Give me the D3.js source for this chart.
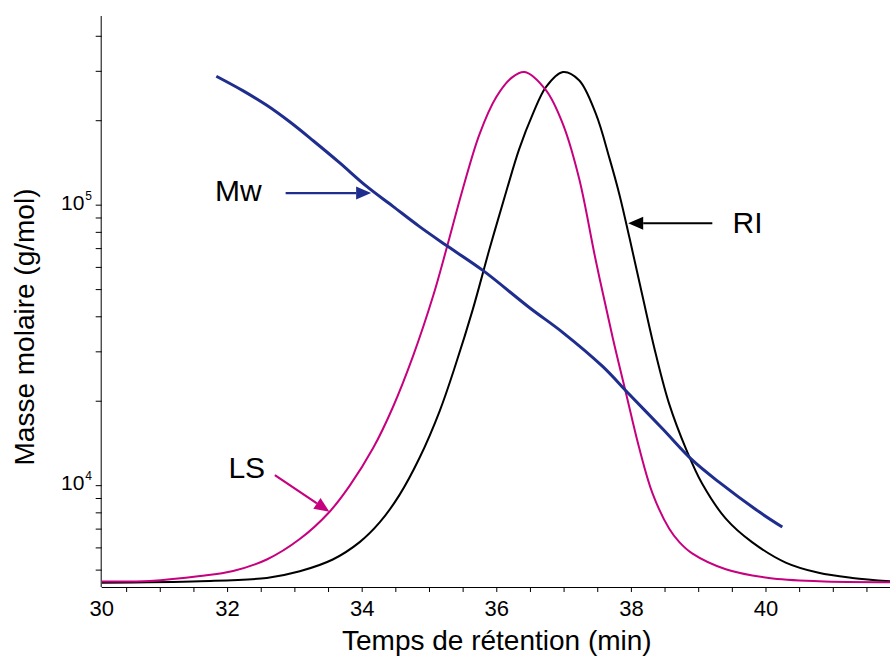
<!DOCTYPE html>
<html>
<head>
<meta charset="utf-8">
<script src="https://cdn.jsdelivr.net/npm/d3@7"></script>
<style>
  html, body { margin: 0; padding: 0; background: #fff; }
  svg { display: block; font-family: "Liberation Sans", Arial, sans-serif; }
</style>
</head>
<body>
<svg id="chart" width="891" height="661"></svg>
<script>
// ---------- data ----------
// Mw (g/mol) vs retention time (min)
const mwTime  = [31.84, 32.24, 32.59, 32.93, 33.28, 33.67, 34.07, 34.46, 34.86, 35.26, 35.80, 36.49, 36.99, 37.58, 37.95, 38.47, 38.91, 39.31, 39.90, 40.25];
const mwValue = [287000, 254500, 226000, 197400, 169000, 141200, 116400, 98800, 83500, 71500, 58300, 43000, 35000, 26500, 21400, 15890, 12300, 10250, 8050, 7090];

// Light scattering signal (normalised)
const lsTime   = [30.14, 30.85, 31.60, 32.09, 32.59, 33.08, 33.52, 33.82, 34.17, 34.46, 34.76, 35.06, 35.26, 35.50, 35.75, 36.00, 36.24, 36.42, 36.74, 36.99, 37.23, 37.48, 37.73, 37.93, 38.12, 38.32, 38.57, 38.72, 38.91, 39.41, 40.05, 40.79, 41.85];
const lsSignal = [0.003, 0.004, 0.0135, 0.0235, 0.046, 0.086, 0.139, 0.190, 0.264, 0.343, 0.443, 0.561, 0.654, 0.770, 0.878, 0.951, 0.990, 1.000, 0.964, 0.898, 0.792, 0.630, 0.480, 0.370, 0.266, 0.176, 0.106, 0.080, 0.058, 0.027, 0.010, 0.0035, 0.0016];

// Refractive index signal (normalised)
const riTime   = [30.14, 31.60, 32.59, 33.08, 33.57, 33.97, 34.27, 34.56, 34.86, 35.16, 35.40, 35.65, 35.90, 36.15, 36.34, 36.54, 36.74, 36.99, 37.23, 37.48, 37.68, 37.83, 37.98, 38.17, 38.37, 38.57, 38.82, 39.06, 39.41, 39.80, 40.30, 40.79, 41.29, 41.85];
const riSignal = [0.0006, 0.0035, 0.010, 0.023, 0.046, 0.080, 0.119, 0.172, 0.245, 0.337, 0.429, 0.535, 0.654, 0.767, 0.849, 0.917, 0.971, 1.000, 0.984, 0.918, 0.832, 0.760, 0.675, 0.563, 0.448, 0.350, 0.262, 0.194, 0.126, 0.080, 0.040, 0.020, 0.010, 0.0035];

// axes
const xDomain = [30.137, 41.85];
const xTickValues = [30.5, 31, 31.5, 32, 32.5, 33, 33.5, 34, 34.5, 35, 35.5, 36, 36.5, 37, 37.5, 38, 38.5, 39, 39.5, 40, 40.5, 41, 41.5];
const xTickLabels = [30, 32, 34, 36, 38, 40];
const yDomain = [4335, 470500];
const yTickValues = [5000, 6000, 7000, 8000, 9000, 10000, 20000, 30000, 40000, 50000, 60000, 70000, 80000, 90000, 100000, 200000, 300000, 400000];
const yTickLabels = [{ base: "10", exp: "4", value: 10000 }, { base: "10", exp: "5", value: 100000 }];

// annotations (data units)
const annMw = { label: "Mw", tail: [32.87, 110000], tip: [34.14, 110000], text: [31.82, 102700] };
const annLS = { label: "LS", tail: [32.71, 0.211], tip: [33.52, 0.1395], text: [32.02, 0.205] };
const annRI = { label: "RI", tail: [39.21, 0.704], tip: [37.96, 0.704], text: [39.51, 0.684] };

// ---------- layout ----------
const svg = d3.select("#chart");
const pLeft = 101.7, pRight = 890, pTop = 16, pBottom = 587;

const x = d3.scaleLinear().domain(xDomain).range([pLeft, pRight]);
const y = d3.scaleLog().domain(yDomain).range([pBottom, pTop]);
const ys = d3.scaleLinear().domain([0, 1]).range([583, 72]); // detector signal (hidden axis)

const colMw = "#1f2e8e", colLS = "#c6007e", colRI = "#000000";

// x axis
const xAxis = d3.axisBottom(x)
  .tickValues(xTickValues)
  .tickSize(5)
  .tickFormat(d => xTickLabels.includes(d) ? d3.format("d")(d) : "");
const gx = svg.append("g").attr("transform", `translate(0,${pBottom})`).call(xAxis);
gx.select(".domain").attr("d", `M${pLeft},0.5H${pRight}`).attr("stroke", "#000");
gx.selectAll(".tick line").attr("stroke", "#000");
gx.selectAll(".tick text").attr("font-size", 22).attr("font-family", "Liberation Sans, Arial, sans-serif").attr("fill", "#000").attr("dy", "0.95em");
// the "30" label sits at the axis origin
gx.append("text").attr("x", x(xDomain[0])).attr("y", 8).attr("dy", "0.95em")
  .attr("text-anchor", "middle").attr("font-size", 22).attr("fill", "#000").text(xTickLabels[0]);

// y axis
const yAxis = d3.axisLeft(y).tickValues(yTickValues).tickSize(6).tickFormat("");
const gy = svg.append("g").attr("transform", `translate(${pLeft},0)`).call(yAxis);
gy.select(".domain").attr("d", `M-0.5,${pTop}V${pBottom}`).attr("stroke", "#000");
gy.selectAll(".tick line").attr("stroke", "#000");

yTickLabels.forEach(t => {
  const tx = svg.append("text")
    .attr("x", 92).attr("y", y(t.value) + 5)
    .attr("text-anchor", "end").attr("fill", "#000");
  tx.append("tspan").attr("font-size", 21).text(t.base);
  tx.append("tspan").attr("font-size", 12).attr("dy", -10).attr("dx", 1).text(t.exp);
});

// axis titles
svg.append("text").attr("x", (pLeft + pRight) / 2 + 1).attr("y", 650)
  .attr("text-anchor", "middle").attr("font-size", 28).attr("fill", "#000")
  .text("Temps de rétention (min)");
svg.append("text").attr("transform", "translate(34,327) rotate(-90)")
  .attr("text-anchor", "middle").attr("font-size", 28).attr("fill", "#000")
  .text("Masse molaire (g/mol)");

// curves
const lineSig = d3.line().x(d => x(d[0])).y(d => ys(d[1])).curve(d3.curveCatmullRom.alpha(0.5));
const lineMw  = d3.line().x(d => x(d[0])).y(d => y(d[1])).curve(d3.curveCatmullRom.alpha(0.5));

svg.append("path").datum(riTime.map((t, i) => [t, riSignal[i]]))
  .attr("d", lineSig).attr("fill", "none").attr("stroke", colRI).attr("stroke-width", 2);
svg.append("path").datum(lsTime.map((t, i) => [t, lsSignal[i]]))
  .attr("d", lineSig).attr("fill", "none").attr("stroke", colLS).attr("stroke-width", 2);
svg.append("path").datum(mwTime.map((t, i) => [t, mwValue[i]]))
  .attr("d", lineMw).attr("fill", "none").attr("stroke", colMw).attr("stroke-width", 3);

// annotations
function arrow(ann, ysc, color) {
  const x0 = x(ann.tail[0]), y0 = ysc(ann.tail[1]);
  const x1 = x(ann.tip[0]),  y1 = ysc(ann.tip[1]);
  const a = Math.atan2(y1 - y0, x1 - x0);
  const L = 15, W = 6.5;
  const bx = x1 - L * Math.cos(a), by = y1 - L * Math.sin(a);
  svg.append("line").attr("x1", x0).attr("y1", y0).attr("x2", bx).attr("y2", by)
    .attr("stroke", color).attr("stroke-width", 2.2);
  const px = -Math.sin(a) * W, py = Math.cos(a) * W;
  svg.append("path")
    .attr("d", `M${x1},${y1}L${bx + px},${by + py}L${bx - px},${by - py}Z`)
    .attr("fill", color);
  svg.append("text").attr("x", x(ann.text[0])).attr("y", ysc(ann.text[1]))
    .attr("font-size", 30).attr("fill", "#000").text(ann.label);
}
arrow(annMw, y, colMw);
arrow(annLS, ys, colLS);
arrow(annRI, ys, colRI);
</script>
</body>
</html>
